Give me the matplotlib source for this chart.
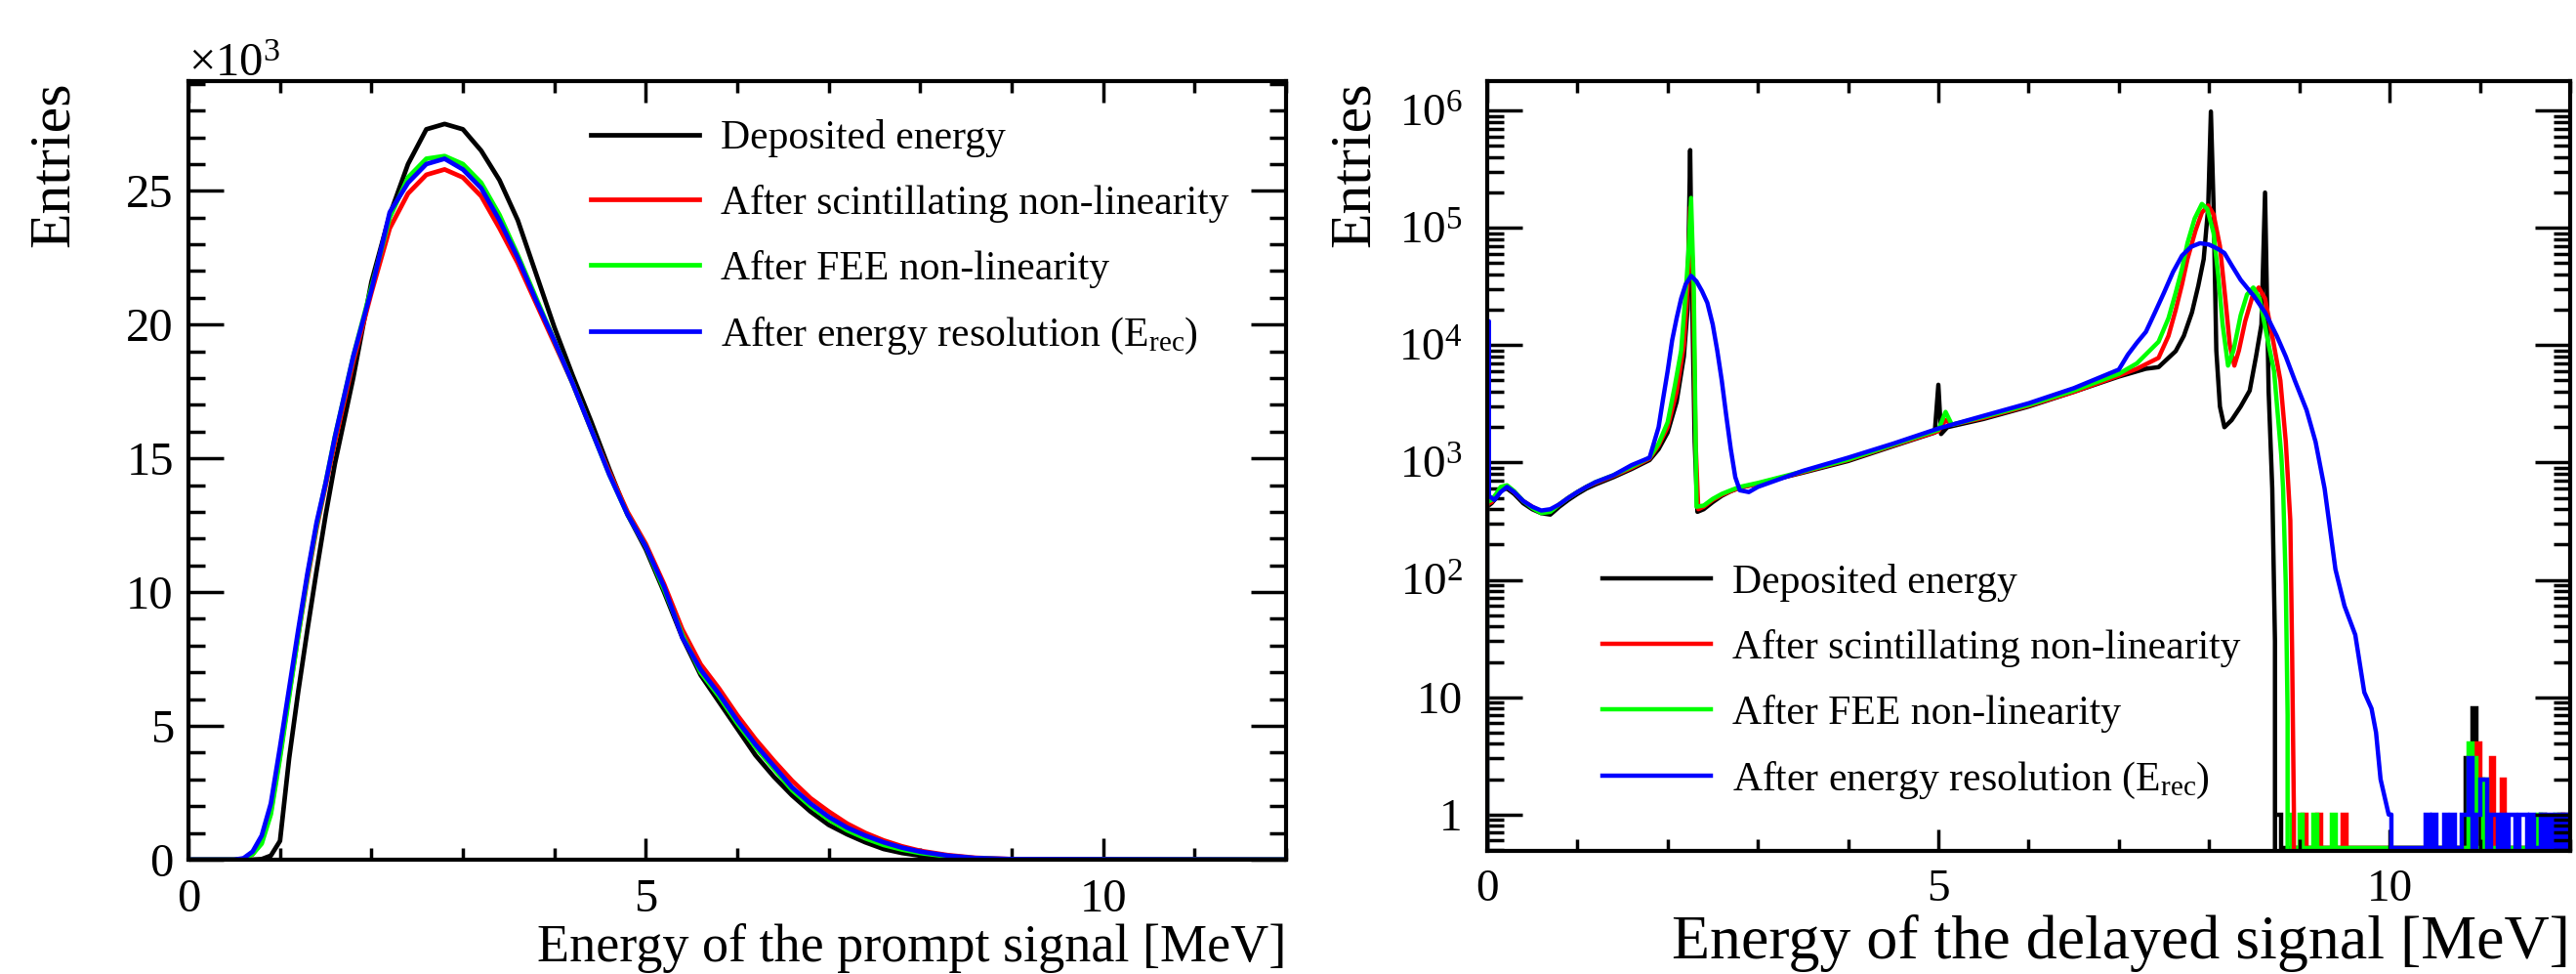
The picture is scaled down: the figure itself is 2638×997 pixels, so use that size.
import numpy as np
import matplotlib
matplotlib.use("Agg")
import matplotlib.pyplot as plt
from matplotlib.ticker import MultipleLocator, LogLocator, NullFormatter

# ROOT-like look: Times style font, ticks inside on every side
plt.rcParams['font.family'] = ['Liberation Serif', 'DejaVu Serif']
plt.rcParams['mathtext.fontset'] = 'custom'
plt.rcParams['mathtext.rm'] = 'Liberation Serif'
plt.rcParams['mathtext.it'] = 'Liberation Serif:italic'
plt.rcParams['mathtext.bf'] = 'Liberation Serif:bold'

labels = ["Deposited energy",
          "After scintillating non-linearity",
          "After FEE non-linearity",
          r"After energy resolution (E$_{\mathrm{rec}}$)"]
colors = ["#000000", "#ff0000", "#00ff00", "#0000ff"]

# ---- prompt signal (entries in units of 10^3) ----
e_prompt = [0.0, 0.5, 0.6, 0.7, 0.8, 0.9, 1.0, 1.1, 1.2, 1.3, 1.4, 1.5, 1.6, 1.8,
            2.0, 2.2, 2.4, 2.6, 2.8, 3.0, 3.2, 3.4, 3.6, 3.8, 4.0, 4.2, 4.4, 4.6,
            4.8, 5.0, 5.2, 5.4, 5.6, 5.8, 6.0, 6.2, 6.4, 6.6, 6.8, 7.0, 7.2, 7.4,
            7.6, 7.8, 8.0, 8.3, 8.6, 9.0, 12.0]
prompt_dep = [0, 0, 0, 0, 0.02, 0.15, 0.7, 3.8, 6.3, 8.6, 10.8, 12.9, 14.8, 18.0,
              21.6, 24.1, 26.0, 27.3, 27.5, 27.3, 26.5, 25.4, 23.9, 21.9, 19.9, 18.1, 16.4, 14.6,
              12.9, 11.6, 10.0, 8.3, 6.9, 5.9, 4.9, 3.9, 3.1, 2.4, 1.8, 1.3, 0.95, 0.65,
              0.4, 0.25, 0.15, 0.06, 0.02, 0, 0]
prompt_lsnl = [0, 0, 0.03, 0.2, 0.7, 1.8, 3.9, 6.2, 8.4, 10.5, 12.4, 14.0, 15.6, 18.6,
               21.2, 23.6, 24.9, 25.6, 25.8, 25.5, 24.8, 23.6, 22.3, 20.8, 19.3, 17.8, 16.1, 14.5,
               13.0, 11.8, 10.3, 8.6, 7.3, 6.4, 5.4, 4.5, 3.7, 2.95, 2.3, 1.8, 1.35, 1.0,
               0.72, 0.5, 0.33, 0.17, 0.07, 0.02, 0]
prompt_fee = [0, 0, 0.02, 0.2, 0.6, 1.7, 3.8, 6.1, 8.4, 10.6, 12.5, 14.1, 15.8, 18.8,
              21.4, 24.0, 25.5, 26.2, 26.3, 26.0, 25.3, 24.1, 22.6, 21.0, 19.4, 17.8, 16.1, 14.4,
              12.9, 11.7, 10.1, 8.4, 7.0, 6.1, 5.1, 4.2, 3.4, 2.6, 2.0, 1.5, 1.1, 0.8,
              0.55, 0.38, 0.25, 0.12, 0.05, 0.01, 0]
prompt_rec = [0, 0, 0.05, 0.3, 0.9, 2.1, 4.2, 6.4, 8.6, 10.7, 12.6, 14.1, 15.8, 18.8,
              21.3, 24.2, 25.3, 26.0, 26.2, 25.8, 25.1, 23.9, 22.5, 20.9, 19.4, 17.8, 16.1, 14.4,
              12.9, 11.7, 10.2, 8.3, 7.1, 6.2, 5.2, 4.3, 3.5, 2.7, 2.1, 1.6, 1.2, 0.9,
              0.65, 0.45, 0.3, 0.15, 0.06, 0.02, 0]

# ---- delayed signal (entries) ----
e_del_dep = [0.0, 0.0, 0.05, 0.1, 0.15, 0.22, 0.3, 0.4, 0.5, 0.6, 0.7, 0.8, 0.9, 1.0, 1.1,
             1.2, 1.4, 1.6, 1.8, 1.9, 2.0, 2.1, 2.18, 2.22, 2.25, 2.27, 2.3, 2.33, 2.4,
             2.5, 2.6, 2.7, 2.8, 3.0, 3.5, 4.0, 4.5, 4.96, 5.0, 5.03, 5.1, 5.5, 6.0, 6.5,
             7.0, 7.3, 7.44, 7.63, 7.72, 7.81, 7.88, 7.94, 7.99, 8.02, 8.05, 8.08, 8.12,
             8.17, 8.25, 8.35, 8.45, 8.52, 8.58, 8.62, 8.66, 8.70, 8.73, 8.75]
n_del_dep = [0, 420, 450, 500, 580, 600, 540, 450, 400, 370, 360, 420, 480, 540, 600,
             650, 750, 880, 1050, 1300, 1800, 3300, 8000, 20000, 460000, 30000, 1500, 380, 400,
             460, 520, 570, 610, 660, 820, 1030, 1380, 1800, 4600, 1750, 2000, 2350, 3000, 4000,
             5400, 6300, 6500, 8900, 12000, 19000, 32000, 54000, 150000, 980000, 150000, 9000, 3000,
             2000, 2300, 3000, 4100, 8000, 15000, 200000, 4000, 600, 30, 0]

e_del_lsnl = [0.0, 0.0, 0.05, 0.1, 0.15, 0.22, 0.3, 0.4, 0.5, 0.6, 0.7, 0.8, 0.9, 1.0, 1.1,
              1.2, 1.4, 1.6, 1.8, 1.9, 2.0, 2.1, 2.18, 2.22, 2.25, 2.28, 2.31, 2.34, 2.4,
              2.5, 2.6, 2.7, 2.8, 3.0, 3.5, 4.0, 4.5, 5.0, 5.08, 5.15, 5.5, 6.0, 6.5, 7.0,
              7.2, 7.44, 7.55, 7.63, 7.7, 7.76, 7.85, 7.92, 7.99, 8.05, 8.12, 8.18, 8.23,
              8.28, 8.33, 8.4, 8.48, 8.55, 8.62, 8.7, 8.79, 8.85, 8.90, 8.92, 8.94, 8.95]
n_del_lsnl = [0, 440, 460, 520, 600, 620, 560, 470, 420, 380, 385, 440, 500, 560, 620,
              670, 770, 900, 1080, 1400, 2000, 4000, 10000, 30000, 150000, 40000, 1500, 400, 420,
              480, 530, 570, 610, 660, 830, 1050, 1400, 1850, 2300, 2100, 2400, 3050, 4000, 5500,
              6300, 7800, 12000, 20000, 33000, 54000, 95000, 135000, 155000, 130000, 70000, 25000, 10000,
              6700, 9000, 16000, 26000, 31000, 25000, 12000, 5000, 1500, 320, 24, 1, 0]

e_del_fee = [0.0, 0.0, 0.05, 0.1, 0.15, 0.22, 0.3, 0.4, 0.5, 0.6, 0.7, 0.8, 0.9, 1.0, 1.1,
             1.2, 1.4, 1.6, 1.8, 1.9, 2.0, 2.08, 2.15, 2.2, 2.23, 2.26, 2.29, 2.32, 2.4,
             2.5, 2.6, 2.7, 2.8, 3.0, 3.5, 4.0, 4.5, 5.0, 5.08, 5.15, 5.5, 6.0, 6.5, 7.0,
             7.2, 7.44, 7.55, 7.63, 7.7, 7.76, 7.84, 7.92, 7.98, 8.05, 8.1, 8.15, 8.21,
             8.27, 8.35, 8.42, 8.49, 8.56, 8.64, 8.72, 8.80, 8.82, 8.85, 8.87, 8.88]
n_del_fee = [0, 460, 480, 540, 620, 640, 570, 470, 410, 370, 380, 440, 500, 560, 620,
             680, 780, 920, 1100, 1450, 2200, 4500, 9000, 28000, 60000, 180000, 30000, 420, 430,
             490, 540, 580, 620, 670, 840, 1060, 1420, 1900, 2700, 2100, 2450, 3100, 4100, 5700,
             7000, 10700, 17000, 28000, 45000, 74000, 120000, 160000, 145000, 90000, 40000, 15000, 6700,
             9000, 18000, 27000, 31000, 25000, 12000, 6000, 1150, 600, 90, 7, 0]

e_del_rec = [0.0, 0.0, 0.02, 0.02, 0.08, 0.15, 0.22, 0.3, 0.4, 0.5, 0.6, 0.7, 0.8, 0.9,
             1.0, 1.1, 1.2, 1.4, 1.6, 1.8, 1.9, 1.95, 2.0, 2.05, 2.1, 2.15, 2.2, 2.26,
             2.32, 2.38, 2.44, 2.5, 2.55, 2.6, 2.65, 2.7, 2.75, 2.8, 2.9, 3.0, 3.5, 4.0,
             4.5, 5.0, 5.5, 6.0, 6.5, 7.0, 7.1, 7.2, 7.3, 7.4, 7.5, 7.6, 7.7, 7.8, 7.9,
             8.0, 8.1, 8.17, 8.25, 8.35, 8.5, 8.62, 8.75, 8.85, 8.95, 9.08, 9.18, 9.28,
             9.4, 9.5, 9.62, 9.72, 9.8, 9.85, 9.9, 9.99, 10.02, 10.03]
n_del_rec = [0, 16000, 16000, 520, 480, 560, 620, 560, 470, 420, 390, 400, 440, 500,
             560, 620, 680, 780, 950, 1100, 2000, 3500, 6000, 11000, 17000, 25000, 33000, 39000,
             35000, 29000, 23000, 15000, 9000, 5000, 2500, 1300, 750, 580, 560, 620, 850, 1100,
             1450, 1950, 2500, 3200, 4300, 6200, 8300, 10500, 13000, 19000, 28000, 42000, 58000, 69000, 74000,
             72000, 66000, 61000, 48000, 36000, 26000, 19000, 12000, 8000, 5000, 2800, 1500, 600,
             123, 60, 34, 11, 8, 5, 2, 1, 1, 0]

# sparse high-energy bins (few entries each), starting where each main curve ends
tail_dep_start, tail_dep_e, tail_dep_n = 8.76, [8.79, 10.86, 10.94, 10.98, 11.70, 11.94], [1, 3, 8, 2, 1, 1]
tail_lsnl_start = 8.96
tail_lsnl_e = [9.08, 9.21, 9.49, 10.98, 11.02, 11.14, 11.27, 11.90]
tail_lsnl_n = [1, 1, 1, 4, 2, 3, 2, 1]
tail_fee_start = 8.88
tail_fee_e = [8.90, 9.03, 9.17, 9.40, 10.90, 10.94, 11.06, 11.67, 11.85]
tail_fee_n = [1, 1, 1, 1, 4, 3, 2, 1, 1]
tail_rec_start = 10.04
tail_rec_e = [10.44, 10.52, 10.64, 10.72, 10.81, 10.86, 10.90, 10.98, 11.02, 11.08, 11.14,
              11.20, 11.26, 11.33, 11.40, 11.46, 11.52, 11.60, 11.70, 11.78, 11.86, 11.96]
tail_rec_n = [1, 1, 1, 1, 1, 1, 3, 1, 2, 2, 1, 1, 1, 1, 1, 1, 1, 1, 1, 1, 1, 1]

BIN = 0.04
FLOOR = 0.52   # empty bins drawn along the frame bottom, ROOT style


def tail_hist(start, es, ns):
    edges = np.round(np.arange(start, 12.0001, BIN), 3)
    c = np.zeros(len(edges) - 1)
    idx = np.clip(np.searchsorted(edges, es) - 1, 0, len(c) - 1)
    c[idx] = ns
    return np.maximum(c, FLOOR), edges


def root_style(ax, tick_size):
    for s in ax.spines.values():
        s.set_linewidth(3)
    ax.tick_params(which='both', direction='in', top=True, right=True,
                   width=2.5, labelsize=tick_size)
    ax.tick_params(axis='y', which='major', length=26)
    ax.tick_params(axis='y', which='minor', length=12.5)
    ax.tick_params(axis='x', which='major', length=16)
    ax.tick_params(axis='x', which='minor', length=8.5)
    ax.xaxis.set_major_locator(MultipleLocator(5))
    ax.xaxis.set_minor_locator(MultipleLocator(1))
    ax.set_xlim(0, 12)


fig = plt.figure(figsize=(26.38, 9.97), dpi=100)
ax1 = fig.add_axes([0.0732, 0.1174, 0.4260, 0.7993])
ax2 = fig.add_axes([0.5773, 0.1264, 0.4204, 0.7903])

# left: prompt
prompt = [prompt_dep, prompt_lsnl, prompt_fee, prompt_rec]
for vals, c, lab in zip(prompt, colors, labels):
    ax1.plot(e_prompt, vals, color=c, lw=3.4, label=lab)
root_style(ax1, 35)
ax1.set_ylim(0, 29.1)
ax1.yaxis.set_major_locator(MultipleLocator(5))
ax1.yaxis.set_minor_locator(MultipleLocator(1))
ax1.tick_params(axis='x', pad=14)
ax1.tick_params(axis='y', pad=11)
ax1.text(0, 1.006, '×10$^{3}$', transform=ax1.transAxes, fontsize=35,
         ha='left', va='baseline')
ax1.set_xlabel("Energy of the prompt signal [MeV]", fontsize=39, loc='right')
ax1.xaxis.set_label_coords(1.0, -0.13)
ax1.xaxis.label.set_va('baseline')
ax1.set_ylabel("Entries", fontsize=43, loc='top')
ax1.yaxis.set_label_coords(-0.11, 1.0)
ax1.yaxis.label.set_va('baseline')
ax1.legend(loc='upper left', bbox_to_anchor=(0.3665, 0.951), frameon=False,
           fontsize=30, handlelength=2.66, handletextpad=0.53, labelspacing=0.67,
           borderpad=0, borderaxespad=0)

# right: delayed
delayed = [(e_del_dep, n_del_dep), (e_del_lsnl, n_del_lsnl),
           (e_del_fee, n_del_fee), (e_del_rec, n_del_rec)]
tails = [(tail_dep_start, tail_dep_e, tail_dep_n), (tail_lsnl_start, tail_lsnl_e, tail_lsnl_n),
         (tail_fee_start, tail_fee_e, tail_fee_n), (tail_rec_start, tail_rec_e, tail_rec_n)]
ax2.set_yscale('log')
handles = []
for (e, n), (ts, te, tn), c, lab in zip(delayed, tails, colors, labels):
    ln, = ax2.plot(e, n, color=c, lw=3.2, label=lab)
    handles.append(ln)
    counts, edges = tail_hist(ts, te, tn)
    ax2.stairs(counts, edges, color=c, lw=3.2, baseline=None)
root_style(ax2, 34)
ax2.set_ylim(0.49, 1.78e6)
ax2.set_yticks([1, 10, 1e2, 1e3, 1e4, 1e5, 1e6],
               ['1', '10', '10$^{2}$', '10$^{3}$', '10$^{4}$', '10$^{5}$', '10$^{6}$'])
ax2.yaxis.set_minor_locator(LogLocator(base=10, subs=np.arange(2, 10)))
ax2.yaxis.set_minor_formatter(NullFormatter())
ax2.tick_params(axis='x', pad=13)
ax2.tick_params(axis='y', pad=18)
ax2.set_xlabel("Energy of the delayed signal [MeV]", fontsize=46, loc='right')
ax2.xaxis.set_label_coords(1.0, -0.14)
ax2.xaxis.label.set_va('baseline')
ax2.set_ylabel("Entries", fontsize=43, loc='top')
ax2.yaxis.set_label_coords(-0.109, 1.0)
ax2.yaxis.label.set_va('baseline')
ax2.legend(handles=handles, loc='upper left', bbox_to_anchor=(0.1064, 0.373),
           frameon=False, fontsize=30, handlelength=2.66, handletextpad=0.53,
           labelspacing=0.67, borderpad=0, borderaxespad=0)

fig.savefig("out.png", dpi=100)
